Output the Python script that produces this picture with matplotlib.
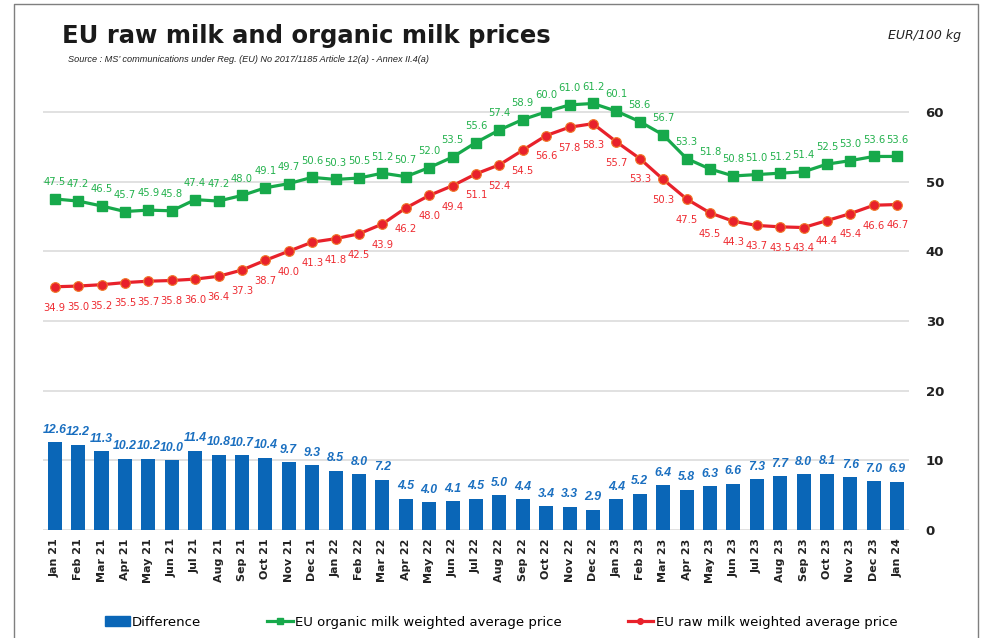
import numpy as np
import matplotlib
matplotlib.use("Agg")
import matplotlib.pyplot as plt
from matplotlib.lines import Line2D
from matplotlib.patches import Patch

months = ["Jan 21", "Feb 21", "Mar 21", "Apr 21", "May 21", "Jun 21", "Jul 21", "Aug 21",
          "Sep 21", "Oct 21", "Nov 21", "Dec 21", "Jan 22", "Feb 22", "Mar 22", "Apr 22",
          "May 22", "Jun 22", "Jul 22", "Aug 22", "Sep 22", "Oct 22", "Nov 22", "Dec 22",
          "Jan 23", "Feb 23", "Mar 23", "Apr 23", "May 23", "Jun 23", "Jul 23", "Aug 23",
          "Sep 23", "Oct 23", "Nov 23", "Dec 23", "Jan 24"]

organic = [47.5, 47.2, 46.5, 45.7, 45.9, 45.8, 47.4, 47.2, 48.0, 49.1, 49.7, 50.6,
           50.3, 50.5, 51.2, 50.7, 52.0, 53.5, 55.6, 57.4, 58.9, 60.0, 61.0, 61.2,
           60.1, 58.6, 56.7, 53.3, 51.8, 50.8, 51.0, 51.2, 51.4, 52.5, 53.0, 53.6,
           53.6]

raw = [34.9, 35.0, 35.2, 35.5, 35.7, 35.8, 36.0, 36.4, 37.3, 38.7, 40.0, 41.3,
       41.8, 42.5, 43.9, 46.2, 48.0, 49.4, 51.1, 52.4, 54.5, 56.6, 57.8, 58.3,
       55.7, 53.3, 50.3, 47.5, 45.5, 44.3, 43.7, 43.5, 43.4, 44.4, 45.4, 46.6,
       46.7]

difference = [12.6, 12.2, 11.3, 10.2, 10.2, 10.0, 11.4, 10.8, 10.7, 10.4, 9.7, 9.3,
              8.5, 8.0, 7.2, 4.5, 4.0, 4.1, 4.5, 5.0, 4.4, 3.4, 3.3, 2.9,
              4.4, 5.2, 6.4, 5.8, 6.3, 6.6, 7.3, 7.7, 8.0, 8.1, 7.6, 7.0,
              6.9]

blue = '#0a66b7'
green = '#17a94b'
red = '#e8212b'

fig = plt.figure(figsize=(9.84, 6.38), dpi=100)
ax = fig.add_axes([0.0437, 0.1693, 0.880, 0.710])

x = np.arange(len(months))

ax.bar(x, difference, width=0.6, color=blue, zorder=2)
ax.plot(x, organic, color=green, lw=2.3, marker='s', ms=7, zorder=3)
ax.plot(x, raw, color=red, lw=2.3, marker='o', ms=7, mec='#f07a2a', mew=0.8, zorder=3)

for i in range(len(months)):
    ax.annotate(f"{organic[i]:.1f}", (x[i], organic[i]), xytext=(0, 12),
                textcoords='offset points', ha='center', va='center',
                fontsize=7.2, color='#22b14c')
    ax.annotate(f"{raw[i]:.1f}", (x[i], raw[i]), xytext=(0, -15),
                textcoords='offset points', ha='center', va='center',
                fontsize=7.2, color='#ee2a30')
    ax.annotate(f"{difference[i]:.1f}", (x[i], difference[i]), xytext=(0, 9),
                textcoords='offset points', ha='center', va='center',
                fontsize=8.8, color='#1a6fc0', fontweight='bold', fontstyle='italic',
                family='Liberation Sans')

ax.set_xlim(-0.5, len(months) - 0.5)
ax.set_ylim(0, 65)
ax.set_yticks(range(0, 61, 10))
ax.yaxis.tick_right()
ax.tick_params(axis='y', length=0, pad=12, labelsize=9.5)
for lbl in ax.get_yticklabels():
    lbl.set_fontweight('bold')
    lbl.set_color('#222222')
ax.set_xticks(x)
ax.set_xticklabels(months, rotation=90, fontsize=8, fontweight='bold', color='#222222')
ax.tick_params(axis='x', length=0, pad=6)
ax.grid(axis='y', color='#dcdcdc', lw=1.2, zorder=0)
ax.set_axisbelow(True)
for s in ax.spines.values():
    s.set_visible(False)

fig.text(0.063, 0.944, "EU raw milk and organic milk prices", fontsize=17.5,
         fontweight='bold', color='#1a1a1a', va='center')
fig.text(0.069, 0.906,
         "Source : MS\u2019 communications under Reg. (EU) No 2017/1185 Article 12(a) - Annex II.4(a)",
         fontsize=6.6, fontstyle='italic', color='#222222', va='center',
         family='Liberation Sans')
fig.text(0.977, 0.944, "EUR/100 kg", fontsize=9, fontstyle='italic',
         color='#222222', va='center', ha='right')

# frame around the chart
fig.add_artist(Line2D([0.0142, 0.0142, 0.9935, 0.9935], [0.0, 0.994, 0.994, 0.0],
                      transform=fig.transFigure, color='#7f7f7f', lw=1.0))

handles = [Patch(color=blue),
           Line2D([], [], color=green, lw=2.3, marker='s', ms=4),
           Line2D([], [], color=red, lw=2.3, marker='o', ms=4)]
labels = ["Difference", "EU organic milk weighted average price",
          "EU raw milk weighted average price"]
fig.legend(handles, labels, loc='center', bbox_to_anchor=(0.509, 0.025), ncol=3,
           frameon=False, fontsize=9.5, handlelength=1.9, handletextpad=0.2,
           columnspacing=5.0)

fig.savefig("out.png", dpi=100)
